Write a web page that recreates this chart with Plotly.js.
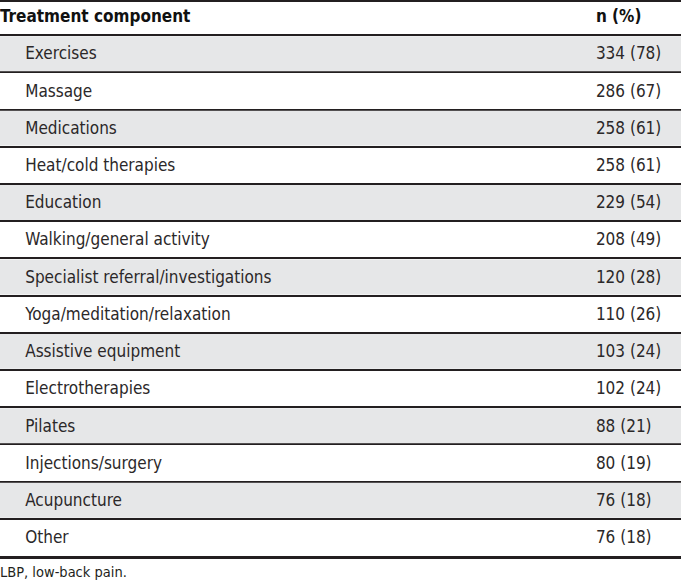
<!DOCTYPE html>
<html>
<head>
<meta charset="utf-8">
<script src="https://cdn.plot.ly/plotly-3.0.1.min.js"></script>
<style>html,body{margin:0;padding:0;background:#fff;}#chart{width:681px;height:581px;}</style>
</head>
<body>
<div id="chart"></div>
<script>
const headerLabels = ["Treatment component", "n (%)"];
const components = ["Exercises", "Massage", "Medications", "Heat/cold therapies", "Education",
  "Walking/general activity", "Specialist referral/investigations", "Yoga/meditation/relaxation",
  "Assistive equipment", "Electrotherapies", "Pilates", "Injections/surgery", "Acupuncture", "Other"];
const counts = [334, 286, 258, 258, 229, 208, 120, 110, 103, 102, 88, 80, 76, 76];
const percents = [78, 67, 61, 61, 54, 49, 28, 26, 24, 24, 21, 19, 18, 18];
const footnote = "LBP, low-back pain.";

const FONT = "'DejaVu Sans Condensed', 'Liberation Sans Narrow', sans-serif";
const rows = components.map((_, i) => i + 1);
const shadedRows = rows.filter(r => r % 2 === 1);
const valueText = counts.map((c, i) => c + " (" + percents[i] + ")");

const traces = [
  {
    type: "bar", orientation: "h",
    y: shadedRows, x: shadedRows.map(() => 1), base: 0, width: 0.94,
    marker: {color: "#e6e7e8", line: {width: 0}},
    hoverinfo: "skip", xaxis: "x", yaxis: "y"
  },
  {
    type: "scatter", mode: "text",
    x: rows.map(() => 0.037), y: rows.map(r => r + 0.04), text: components,
    textposition: "middle right",
    textfont: {family: FONT, size: 17, color: "#2b2829"},
    hoverinfo: "skip", xaxis: "x", yaxis: "y"
  },
  {
    type: "scatter", mode: "text",
    x: rows.map(() => 0.875), y: rows.map(r => r + 0.04), text: valueText,
    textposition: "middle right",
    textfont: {family: FONT, size: 17, color: "#2b2829"},
    hoverinfo: "skip", xaxis: "x", yaxis: "y"
  },
  {
    type: "scatter", mode: "text",
    x: [0, 0.875], y: [0.02, 0.02], text: headerLabels.map(t => "<b>" + t + "</b>"),
    textposition: "middle right",
    textfont: {family: FONT, size: 17, color: "#111111"},
    hoverinfo: "skip", xaxis: "x2", yaxis: "y"
  }
];

const layout = {
  width: 681, height: 581,
  margin: {l: 0, r: 0, t: 2, b: 25, pad: 0},
  paper_bgcolor: "#ffffff", plot_bgcolor: "#ffffff",
  showlegend: false,
  xaxis: {range: [0, 1], showgrid: false, zeroline: false, showticklabels: false, ticks: "",
    showline: true, linecolor: "#231f20", linewidth: 3, fixedrange: true},
  xaxis2: {range: [0, 1], overlaying: "x", side: "top", anchor: "y", showgrid: false, zeroline: false,
    showticklabels: false, ticks: "", showline: true, linecolor: "#231f20", linewidth: 2, fixedrange: true},
  yaxis: {range: [14.5, -0.39], showticklabels: false, ticks: "", zeroline: false,
    showgrid: true, tick0: 0.5, dtick: 1, gridcolor: "#231f20", gridwidth: 2, fixedrange: true},
  annotations: [{
    xref: "paper", yref: "paper", x: 0, y: 0, yshift: -16, xshift: -1, borderpad: 0,
    xanchor: "left", yanchor: "middle", showarrow: false,
    text: footnote, font: {family: FONT, size: 14.5, color: "#231f20"}
  }]
};

Plotly.newPlot("chart", traces, layout, {displayModeBar: false, staticPlot: true});
</script>
</body>
</html>
